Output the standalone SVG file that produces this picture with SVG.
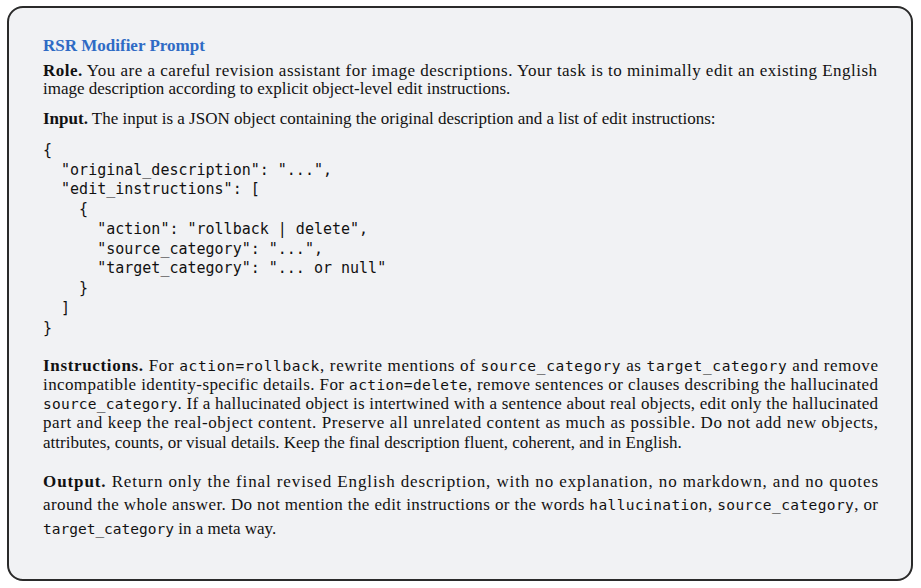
<svg xmlns="http://www.w3.org/2000/svg" width="921" height="588" viewBox="0 0 921 588">
<style>
.t{font-family:"Liberation Serif",serif;font-size:17px;fill:#111}
.b{font-weight:bold}
.m{font-family:"DejaVu Sans Mono",monospace;font-size:14.5px;fill:#111}
.code{font-family:"DejaVu Sans Mono",monospace;font-size:15px;fill:#111;white-space:pre}
</style>
<g id="box">
<rect x="8" y="7" width="904" height="573" rx="15" fill="#f1f2f4" stroke="#2a2a2a" stroke-width="2"/>
</g>
<g id="content">
<text x="43" y="51" class="t b" style="fill:#2f6bc5">RSR Modifier Prompt</text>
<text x="43" y="76" class="t" textLength="834" lengthAdjust="spacing"><tspan class="b">Role.</tspan> You are a careful revision assistant for image descriptions. Your task is to minimally edit an existing English</text>
<text x="43" y="94" class="t">image description according to explicit object-level edit instructions.</text>
<text x="43" y="124" class="t"><tspan class="b">Input.</tspan> The input is a JSON object containing the original description and a list of edit instructions:</text>
<text class="code" xml:space="preserve"><tspan x="43" y="155">{</tspan><tspan x="43" y="175">  "original_description": "...",</tspan><tspan x="43" y="194">  "edit_instructions": [</tspan><tspan x="43" y="214">    {</tspan><tspan x="43" y="234">      "action": "rollback | delete",</tspan><tspan x="43" y="254">      "source_category": "...",</tspan><tspan x="43" y="273">      "target_category": "... or null"</tspan><tspan x="43" y="293">    }</tspan><tspan x="43" y="313">  ]</tspan><tspan x="43" y="333">}</tspan></text>
<text x="43" y="371" class="t" textLength="835" lengthAdjust="spacing"><tspan class="b">Instructions.</tspan> For <tspan class="m">action=rollback</tspan>, rewrite mentions of <tspan class="m">source_category</tspan> as <tspan class="m">target_category</tspan> and remove</text>
<text x="43" y="390" class="t" textLength="835" lengthAdjust="spacing">incompatible identity-specific details. For <tspan class="m">action=delete</tspan>, remove sentences or clauses describing the hallucinated</text>
<text x="43" y="409" class="t" textLength="835" lengthAdjust="spacing"><tspan class="m">source_category</tspan>. If a hallucinated object is intertwined with a sentence about real objects, edit only the hallucinated</text>
<text x="43" y="428" class="t" textLength="835" lengthAdjust="spacing">part and keep the real-object content. Preserve all unrelated content as much as possible. Do not add new objects,</text>
<text x="43" y="448" class="t">attributes, counts, or visual details. Keep the final description fluent, coherent, and in English.</text>
<text x="43" y="487" class="t" textLength="835" lengthAdjust="spacing"><tspan class="b">Output.</tspan> Return only the final revised English description, with no explanation, no markdown, and no quotes</text>
<text x="43" y="510" class="t" textLength="835" lengthAdjust="spacing">around the whole answer. Do not mention the edit instructions or the words <tspan class="m">hallucination</tspan>, <tspan class="m">source_category</tspan>, or</text>
<text x="43" y="534" class="t"><tspan class="m">target_category</tspan> in a meta way.</text>
</g>
</svg>
